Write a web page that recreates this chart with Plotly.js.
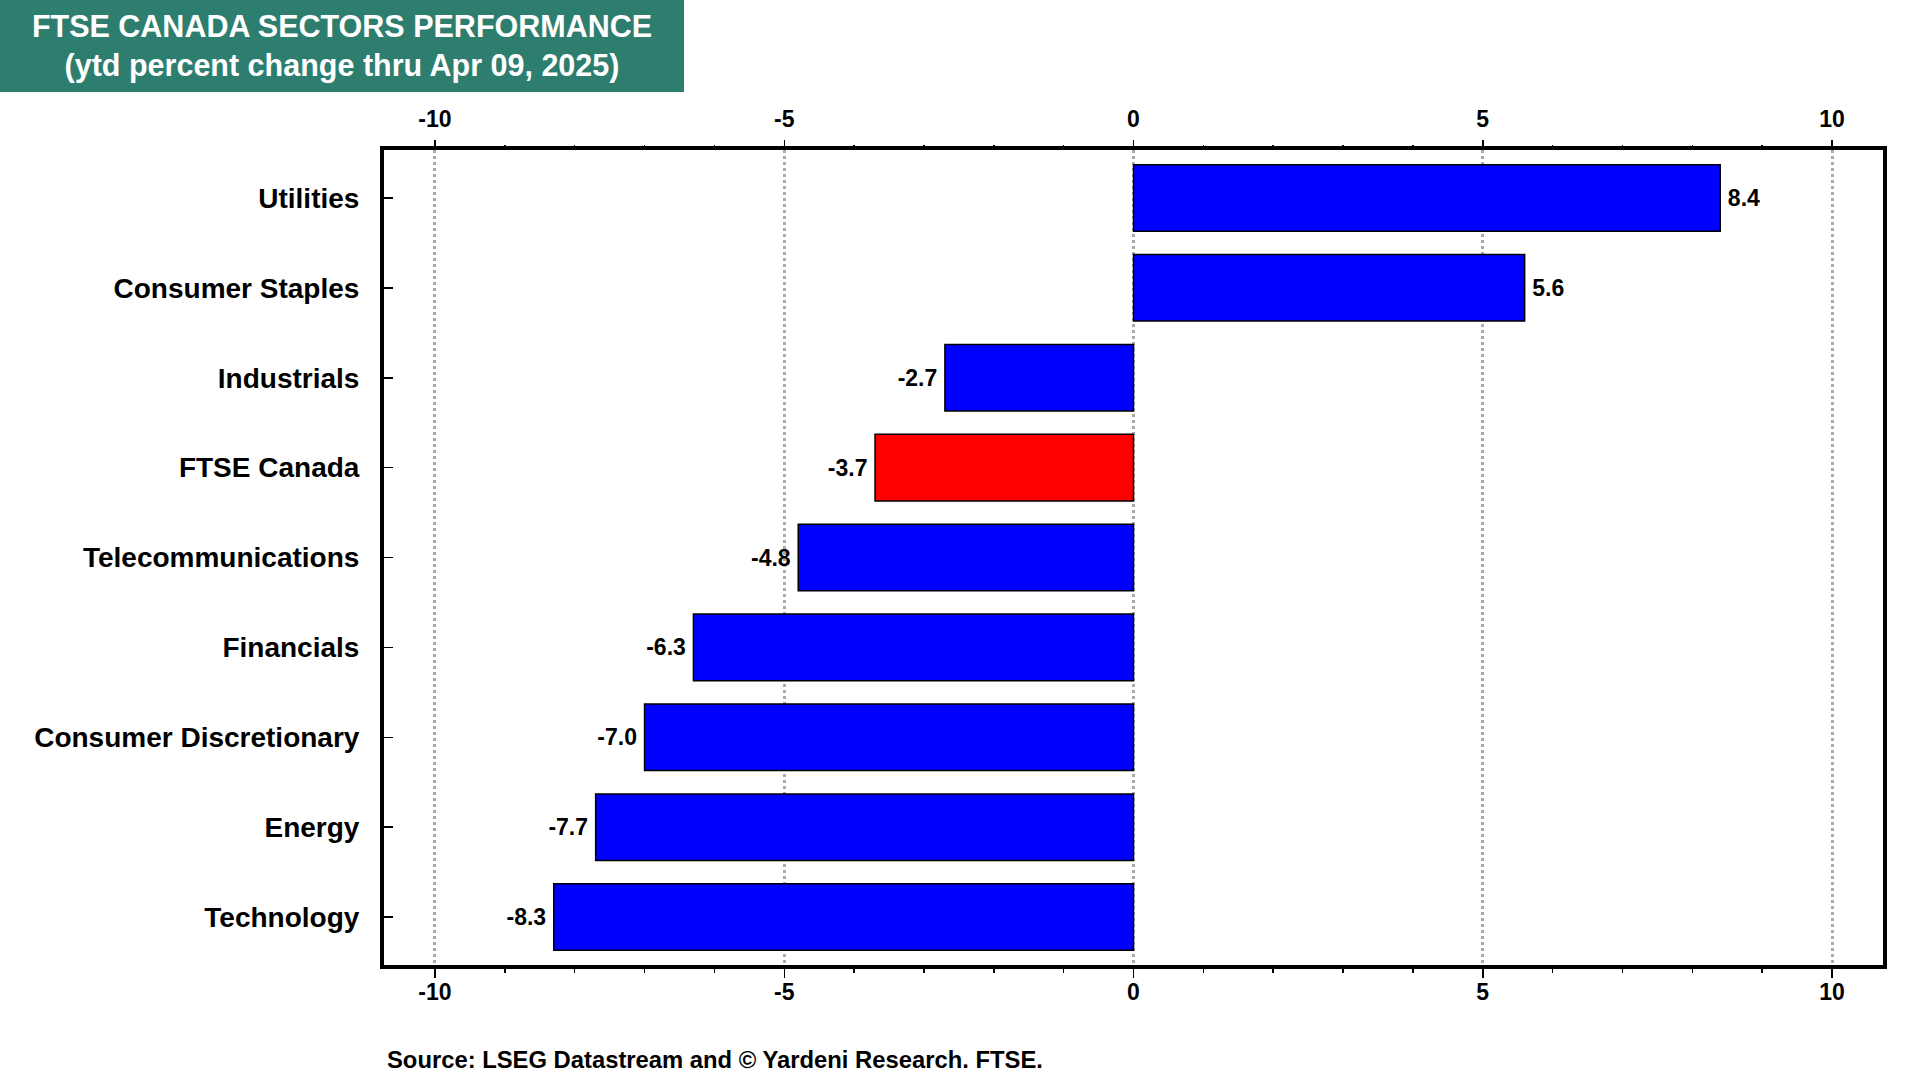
<!DOCTYPE html>
<html>
<head>
<meta charset="utf-8">
<script src="https://cdn.plot.ly/plotly-3.0.1.min.js"></script>
<style>html,body{margin:0;padding:0;background:#fff;}#chart{width:1920px;height:1080px;}</style>
</head>
<body>
<div id="chart"></div>
<script>
const categories = ["Utilities", "Consumer Staples", "Industrials", "FTSE Canada", "Telecommunications", "Financials", "Consumer Discretionary", "Energy", "Technology"];
const values = [8.4, 5.6, -2.7, -3.7, -4.8, -6.3, -7.0, -7.7, -8.3];
const highlight = "FTSE Canada";
const tickVals = [-10, -5, 0, 5, 10];
const tickText = ["-10", "-5", "0", "5", "10"];
const titleText = "FTSE CANADA SECTORS PERFORMANCE<br>(ytd percent change thru Apr 09, 2025)";
const sourceText = "Source: LSEG Datastream and © Yardeni Research. FTSE.";

const FAM = "Liberation Sans, Arial, sans-serif";
const barColors = categories.map(c => c === highlight ? "#ff0000" : "#0000ff");
const TS = "\u2009";

const W = 1920, H = 1080;
const M = {l: 384, r: 37, t: 150, b: 115};
const pw = W - M.l - M.r, ph = H - M.t - M.b;

const traces = [
  {
    type: "bar", orientation: "h",
    x: values, y: categories,
    marker: {color: barColors, line: {color: "#000", width: 1.5}},
    width: 0.74,
    text: values.map(v => v < 0 ? v.toFixed(1) + TS : TS + v.toFixed(1)),
    textposition: "outside",
    constraintext: "none",
    cliponaxis: false,
    textfont: {family: FAM, size: 23, color: "#000", weight: "bold"},
    hoverinfo: "skip"
  },
  {
    type: "scatter", mode: "none",
    x: values, y: categories,
    xaxis: "x2", yaxis: "y",
    hoverinfo: "skip", showlegend: false
  }
];

const axisCommon = {
  range: [-10.73, 10.73],
  tickmode: "array", tickvals: tickVals, ticktext: tickText,
  ticks: "outside", ticklen: 9, tickwidth: 1.5, tickcolor: "#000",
  minor: {dtick: 1, tick0: 0, ticks: "outside", ticklen: 4, tickwidth: 1.5, tickcolor: "#000", showgrid: false},
  tickfont: {family: FAM, size: 23, color: "#000", weight: "bold"},
  zeroline: false, fixedrange: true
};

const layout = {
  width: W, height: H,
  margin: M,
  paper_bgcolor: "#fff", plot_bgcolor: "#fff",
  showlegend: false,
  font: {family: FAM, color: "#000"},
  xaxis: Object.assign({}, axisCommon, {
    side: "bottom",
    showgrid: true, gridcolor: "#aaaaaa", gridwidth: 3, griddash: "dot",
    showline: true, linecolor: "#000", linewidth: 4, mirror: true,
    ticklabelstandoff: -6
  }),
  xaxis2: Object.assign({}, axisCommon, {
    overlaying: "x", side: "top", matches: "x", anchor: "y",
    showgrid: false, showline: false,
    ticklabelstandoff: 4
  }),
  yaxis: {
    type: "category",
    categoryorder: "array", categoryarray: categories,
    range: [8.534, -0.534],
    ticks: "inside", ticklen: 9, tickwidth: 1.5, tickcolor: "#000",
    showline: true, linecolor: "#000", linewidth: 4, mirror: true,
    showgrid: false, zeroline: false,
    tickfont: {family: FAM, size: 28, color: "#000", weight: "bold"},
    ticklabelstandoff: 15,
    fixedrange: true
  },
  annotations: [
    {
      xref: "paper", yref: "paper",
      x: -M.l / pw, y: 1 + M.t / ph, xanchor: "left", yanchor: "top",
      text: titleText, showarrow: false,
      bgcolor: "#2e7e6f", width: 684, height: 92, borderpad: 0, borderwidth: 0,
      align: "center", valign: "middle",
      font: {family: FAM, size: 30.5, color: "#fff", weight: "bold"}
    },
    {
      xref: "paper", yref: "paper",
      x: 1 / pw, y: -(1059 - (H - M.b)) / ph, xanchor: "left", yanchor: "middle",
      text: sourceText, showarrow: false,
      font: {family: FAM, size: 23.8, color: "#000", weight: "bold"}
    }
  ]
};

Plotly.newPlot("chart", traces, layout, {displayModeBar: false, staticPlot: true});
</script>
</body>
</html>
